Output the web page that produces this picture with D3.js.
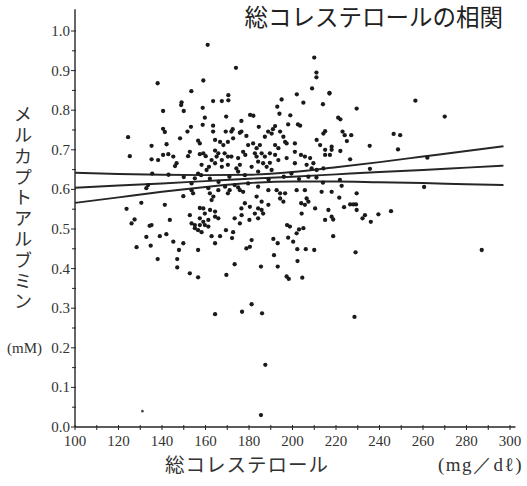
<!DOCTYPE html>
<html><head><meta charset="utf-8">
<script src="https://cdn.jsdelivr.net/npm/d3@7"></script>
<style>body{margin:0;background:#fff}svg{display:block}</style>
</head><body><svg id="c" width="527" height="486"></svg>
<script>
const titleText = "総コレステロールの相関";
const xTitle = "総コレステロール";
const xUnit = "(mg／dℓ)";
const yTitle = "メルカプトアルブミン";
const yUnit = "(mM)";
const xTicks = [100,120,140,160,180,200,220,240,260,280,300];
const xMinor = [110,130,150,170,190,210,230,250,270,290];
const yTicks = [0.0,0.1,0.2,0.3,0.4,0.5,0.6,0.7,0.8,0.9,1.0];
const yMinor = [0.05,0.15,0.25,0.35,0.45,0.55,0.65,0.75,0.85,0.95];

// fitted regression line and its confidence band
const bandX    = [100,120,140,160,180,200,220,240,260,280,297];
const fitMid   = [0.604,0.610,0.615,0.621,0.627,0.632,0.638,0.644,0.649,0.655,0.660];
const fitUpper = [0.642,0.639,0.637,0.636,0.637,0.644,0.656,0.669,0.683,0.697,0.709];
const fitLower = [0.566,0.580,0.594,0.606,0.616,0.620,0.620,0.618,0.616,0.613,0.611];

// [total cholesterol (mg/dl), mercaptalbumin (mM)]
const points = [
[161,0.965],[174,0.907],[138,0.868],[159,0.875],[153.5,0.848],[210,0.933],[211,0.895],[211,0.883],
[209,0.855],[217,0.844],[202,0.84],[205,0.819],[214,0.815],[195,0.827],[193,0.809],[194,0.791],
[199,0.787],[170.5,0.838],[170.5,0.825],[169.5,0.784],[180.5,0.788],[182,0.786],[176.5,0.773],
[172.5,0.752],[176.5,0.746],[184.5,0.758],[192,0.760],[191,0.752],[198,0.764],[202.5,0.764],
[203.5,0.761],[215,0.747],[229.5,0.804],[256.5,0.824],[270,0.784],[221,0.781],[222,0.777],
[223,0.746],[224,0.737],[227,0.737],[225,0.722],[235.5,0.71],[246.5,0.74],[249.5,0.737],
[248.5,0.701],[218,0.7],[222,0.697],[226.5,0.676],[217,0.842],
[140.5,0.798],[149,0.82],[148.8,0.813],[150,0.798],[158.7,0.806],[163.5,0.823],[167.5,0.823],
[159.7,0.781],[158.7,0.763],[163.5,0.761],[163.5,0.746],[153.3,0.758],[151.7,0.746],[140.5,0.753],
[141.3,0.745],
[124.4,0.732],[135.2,0.71],[142.1,0.714],[148.3,0.729],[156.6,0.723],[157.4,0.716],[164.4,0.725],
[168.2,0.712],[125.2,0.684],[135.2,0.676],[138.2,0.674],[140.5,0.687],[142.9,0.689],[145.2,0.683],
[146.7,0.666],[146,0.659],[152.8,0.695],[152,0.684],[157.4,0.689],[159,0.691],[160.1,0.684],
[164.4,0.698],[165.9,0.691],[162.8,0.674],[164.4,0.666],[158.2,0.662],[160.5,0.649],[167.5,0.674],
[167.5,0.657],[156.6,0.64],[155.1,0.628],[153.6,0.615],[133.6,0.611],[132.8,0.603],[149.8,0.583],
[153.6,0.598],[154.3,0.59],[161.3,0.603],[162.8,0.573],[163.6,0.582],[165.9,0.598],[130.5,0.566],
[141.3,0.561],[123.7,0.551],[127.4,0.524],[126,0.514],[135.2,0.51],[143.6,0.523],[152.8,0.535],
[157.4,0.553],[159,0.552],[159.7,0.539],[162.1,0.548],[164.4,0.544],[153.6,0.514],[155.1,0.51],
[157.4,0.51],[159,0.518],[159.7,0.51],[164.4,0.531],[165.9,0.527],
[171.9,0.746],[172.7,0.729],[170.3,0.72],[175.8,0.743],[178.8,0.735],[179.6,0.712],[177.3,0.695],
[175,0.679],[181.9,0.716],[183.5,0.704],[185,0.712],[187.3,0.733],[190.4,0.741],[194.3,0.746],
[195.8,0.733],[196.6,0.72],[192,0.712],[193.5,0.704],[197.3,0.716],[201.1,0.716],[189.6,0.691],
[192,0.687],[185.8,0.691],[187.3,0.683],[182.7,0.691],[183.5,0.683],[184.2,0.67],[186.5,0.666],
[188.1,0.657],[190.4,0.649],[193.5,0.674],[197.3,0.679],[201.1,0.695],[201.1,0.666],[203.9,0.687],
[205.7,0.683],[208.1,0.679],[209.6,0.666],[214.2,0.741],[211.1,0.725],[212.7,0.712],[215,0.7],
[215,0.687],[217.2,0.687],[218,0.708],[206.5,0.662],[208.8,0.653],[211.1,0.649],[214.2,0.653],
[175.8,0.662],[174.2,0.653],[171.9,0.683],[168.8,0.691],[170.3,0.662],[181.2,0.657],[175,0.645],
[178.1,0.636],[184.2,0.645],[199.5,0.64],[207.3,0.632],[173.4,0.611],[175,0.605],[175.8,0.598],
[177.3,0.594],[171.1,0.598],[170.3,0.59],[179.6,0.615],[184.2,0.607],[188.9,0.598],[192.7,0.598],
[194.3,0.59],[196.6,0.59],[201.9,0.598],[205.7,0.598],[213.4,0.594],[218,0.594],[183.5,0.582],
[185.8,0.569],[178.1,0.565],[180.4,0.556],[176.5,0.552],[184.2,0.552],[185.8,0.548],[186.5,0.539],
[182.7,0.539],[184.2,0.527],[188.9,0.561],[194.3,0.577],[195.8,0.569],[206.5,0.577],[207.3,0.569],
[205.7,0.561],[210.4,0.552],[216.5,0.548],[218,0.531],[215,0.523],[173.4,0.527],[175.8,0.514],
[198.8,0.506],[204.2,0.539],
[221.8,0.624],[222.6,0.609],[229.5,0.59],[221.5,0.579],[223.7,0.555],[226.5,0.562],[228,0.562],
[229.2,0.562],[229.5,0.548],[218.7,0.524],[232.2,0.527],[233.3,0.535],[236,0.518],[239.5,0.537],
[245.3,0.545],[218.7,0.482],[229,0.441],[287,0.447],[260.5,0.606],[235.6,0.652],[262,0.68],
[132.8,0.48],[139,0.482],[142,0.487],[145.2,0.468],[149.8,0.464],[134.8,0.458],[128.3,0.454],
[147.8,0.447],[156.6,0.447],[138,0.424],[147,0.424],[147,0.403],[152.8,0.388],[156.6,0.378],
[164.4,0.285],[155.1,0.502],[156.6,0.497],[158.2,0.492],[161.3,0.506],[162.8,0.482],[166.7,0.482],
[164.4,0.464],[134.3,0.508],[169.4,0.497],[172.7,0.492],[172.2,0.477],[201.9,0.489],[205,0.502],
[181.2,0.472],[178.8,0.451],[180.4,0.455],[173.4,0.411],[169.6,0.384],[185.5,0.405],[191.2,0.475],
[193.2,0.464],[191.5,0.434],[193.2,0.405],[197.3,0.38],[198.3,0.374],[204.5,0.377],[198,0.478],
[200.3,0.468],[202.2,0.449],[206.1,0.449],[210,0.447],[202.3,0.419],[181.2,0.31],[176.8,0.291],
[186,0.287],[228.5,0.278],[187.5,0.157],[185.5,0.03],
[135.5,0.64],[143,0.637],[150,0.631],[158,0.636],[162,0.627],[166,0.619],[171,0.632],[189,0.625],
[196,0.632],[203,0.626],[211,0.63],[214,0.617],[169,0.607],[188.8,0.746],[189.6,0.667],[204,0.565],
[197.5,0.51],[203,0.499],[162,0.59],[157.4,0.527],[161.3,0.523],[176.6,0.535],[180.2,0.523],
[169.3,0.746],[166.7,0.72],[170.3,0.683],[165.1,0.683],[178.3,0.687],[161.6,0.657]
];
const faintPoints = [[131,0.04]];

const ink = "#262626";
const svg = d3.select("#c");
const x = d3.scaleLinear().domain([100,300]).range([75,510]);
const y = d3.scaleLinear().domain([0,1]).range([427,31]);

// axes lines
svg.append("line").attr("x1",x(100)).attr("x2",x(302.5)).attr("y1",y(0)).attr("y2",y(0))
  .attr("stroke",ink).attr("stroke-width",1.4);
svg.append("line").attr("x1",x(100)).attr("x2",x(100)).attr("y1",y(0)).attr("y2",y(1.055))
  .attr("stroke",ink).attr("stroke-width",1.4);

// x ticks
const gx = svg.append("g");
gx.selectAll("line.maj").data(xTicks.concat(xMinor)).join("line")
  .attr("x1",d=>x(d)).attr("x2",d=>x(d)).attr("y1",y(0)-2).attr("y2",y(0)+3)
  .attr("stroke",ink).attr("stroke-width",1);
gx.selectAll("text").data(xTicks).join("text")
  .attr("x",d=>x(d)).attr("y",y(0)+19)
  .attr("text-anchor","middle").attr("font-family","'Liberation Serif', serif")
  .attr("font-size",15).attr("fill","#333").text(d=>d);

// y ticks
const gy = svg.append("g");
gy.selectAll("line.maj").data(yTicks).join("line")
  .attr("x1",x(100)-4).attr("x2",x(100)+1).attr("y1",d=>y(d)).attr("y2",d=>y(d))
  .attr("stroke",ink).attr("stroke-width",1);
gy.selectAll("line.min").data(yMinor).join("line")
  .attr("x1",x(100)-3).attr("x2",x(100)+1).attr("y1",d=>y(d)).attr("y2",d=>y(d))
  .attr("stroke",ink).attr("stroke-width",1);
gy.selectAll("text").data(yTicks).join("text")
  .attr("x",x(100)-5).attr("y",d=>y(d)+5)
  .attr("text-anchor","end").attr("font-family","'Liberation Serif', serif")
  .attr("font-size",15).attr("fill","#333").text(d=>d.toFixed(1));

// regression line and band
const line = d3.line().x(d=>x(d[0])).y(d=>y(d[1])).curve(d3.curveMonotoneX);
[fitUpper, fitMid, fitLower].forEach(arr=>{
  svg.append("path").datum(bandX.map((v,i)=>[v,arr[i]]))
    .attr("d",line).attr("fill","none").attr("stroke",ink).attr("stroke-width",1.9);
});

// points
svg.append("g").selectAll("circle").data(points).join("circle")
  .attr("cx",d=>x(d[0])).attr("cy",d=>y(d[1])).attr("r",2.15).attr("fill","#1a1a1a");
svg.append("g").selectAll("circle").data(faintPoints).join("circle")
  .attr("cx",d=>x(d[0])).attr("cy",d=>y(d[1])).attr("r",1.3).attr("fill","#444");

// texts
svg.append("text").attr("x",503).attr("y",26).attr("text-anchor","end")
  .attr("font-family","'Noto Sans CJK JP', sans-serif").attr("font-size",23.5)
  .attr("fill","#222").text(titleText);
svg.append("text").attr("x",165).attr("y",472)
  .attr("font-family","'Noto Sans CJK JP', sans-serif").attr("font-size",19.5)
  .attr("letter-spacing",1).attr("fill","#333").text(xTitle);
svg.append("text").attr("x",523).attr("y",471).attr("text-anchor","end")
  .attr("font-family","'Liberation Serif', serif").attr("font-size",19)
  .attr("letter-spacing",1.5).attr("fill","#333").text(xUnit);
svg.append("text").attr("x",23).attr("y",105)
  .attr("writing-mode","vertical-rl").style("writing-mode","vertical-rl")
  .attr("font-family","'Noto Sans CJK JP', sans-serif").attr("font-size",18.5)
  .attr("letter-spacing",2.3).attr("fill","#333").text(yTitle);
svg.append("text").attr("x",7).attr("y",y(0.2)+5)
  .attr("font-family","'Liberation Serif', serif").attr("font-size",15)
  .attr("fill","#333").text(yUnit);
</script>
</body></html>
